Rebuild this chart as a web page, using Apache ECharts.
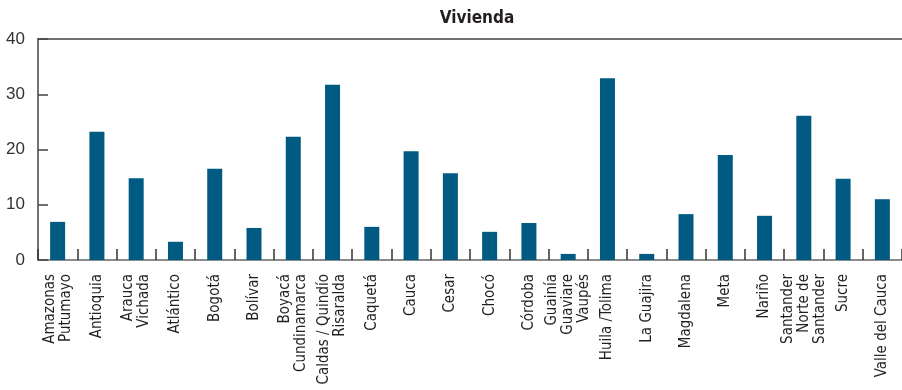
<!DOCTYPE html>
<html>
<head>
<meta charset="utf-8">
<script src="https://cdn.jsdelivr.net/npm/echarts@6/dist/echarts.min.js"></script>
<style>
  html, body { margin: 0; padding: 0; background: #fff; }
  #chart { width: 902px; height: 390px; }
</style>
</head>
<body>
<div id="chart"></div>
<script>
// regiones (las etiquetas de varias líneas usan \n)
const categories = [
  'Amazonas\nPutumayo', 'Antioquia', 'Arauca\nVichada', 'Atlántico', 'Bogotá',
  'Bolívar', 'Boyacá\nCundinamarca', 'Caldas / Quindío\nRisaralda', 'Caquetá', 'Cauca',
  'Cesar', 'Chocó', 'Córdoba', 'Guainía\nGuaviare\nVaupés', 'Huila /Tolima',
  'La Guajira', 'Magdalena', 'Meta', 'Nariño', 'Santander\nNorte de\nSantander',
  'Sucre', 'Valle del Cauca'
]

const vivienda = [
  6.9, 23.2, 14.8, 3.3, 16.5,
  5.8, 22.3, 31.7, 6.0, 19.7,
  15.7, 5.1, 6.7, 1.1, 32.9,
  1.1, 8.3, 19.0, 8.0, 26.1,
  14.7, 11.0
]

const yTicks = [0, 10, 20, 30, 40]

const narrow = "'Liberation Sans Narrow', 'DejaVu Sans Condensed', sans-serif"

const chart = echarts.init(document.getElementById('chart'))

const option = {
  animation: false,
  title: {
    text: 'Vivienda',
    left: 472,
    top: 5,
    textAlign: 'center',
    textStyle: {
      fontFamily: narrow,
      fontSize: 17,
      fontWeight: 'bold',
      color: '#231f20',
    },
  },
  grid: {
    left: 38,
    right: 0,
    top: 39,
    bottom: 130,
    outerBoundsMode: 'none',
    containLabel: false,
  },
  xAxis: [
    {
      type: 'category',
      data: categories,
      axisLine: { show: true, lineStyle: { color: '#666', width: 1.5 } },
      axisTick: { show: true, inside: true, length: 11, interval: 0, lineStyle: { color: '#333', width: 1.5 } },
      axisLabel: {
        rotate: 90,
        margin: 14,
        interval: 0,
        fontFamily: narrow,
        fontSize: 15,
        lineHeight: 16,
        color: '#231f20',
      },
    },
    {
      type: 'category',
      position: 'top',
      data: categories,
      axisLine: { show: true, lineStyle: { color: '#444', width: 1.5 } },
      axisTick: { show: false },
      axisLabel: { show: false },
    },
  ],
  yAxis: {
    type: 'value',
    min: yTicks[0],
    max: yTicks[yTicks.length - 1],
    interval: 10,
    axisLine: { show: true, lineStyle: { color: '#444', width: 1.5 } },
    axisTick: { show: true, inside: true, length: 10, lineStyle: { color: '#444', width: 1.5 } },
    splitLine: { show: false },
    axisLabel: {
      margin: 13,
      fontFamily: "'Liberation Sans', Arial, sans-serif",
      fontSize: 17,
      color: '#333',
    },
  },
  series: [
    {
      name: 'Vivienda',
      type: 'bar',
      barWidth: 15,
      data: vivienda,
      itemStyle: { color: '#005a82' },
    },
  ],
}

chart.setOption(option)
</script>
</body>
</html>
